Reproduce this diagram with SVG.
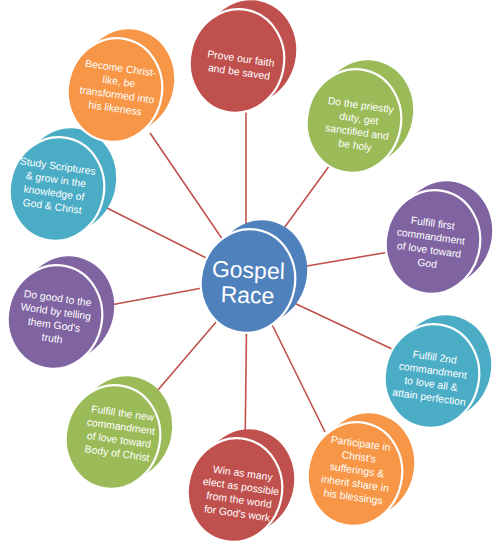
<svg xmlns="http://www.w3.org/2000/svg" width="500" height="553" viewBox="0 0 500 553">
<style>
.conn line{stroke:#c0504d;stroke-width:1.6}
.back{stroke:none}
.front{stroke:#fff;stroke-width:2.2}
.t{font-family:"Liberation Sans",Arial,sans-serif;font-size:10.4px;fill:#fff;text-anchor:middle}
.big{font-family:"Liberation Sans",Arial,sans-serif;font-size:23px;fill:#fff;text-anchor:middle}
.red{fill:#c0504d}.green{fill:#9bbb59}.purple{fill:#8064a2}.teal{fill:#4bacc6}.orange{fill:#f79646}.blue{fill:#4f81bd}
</style>
<defs>
<g id="disc">
<ellipse class="back" cx="12" cy="-9" rx="47" ry="52" transform="rotate(12 12 -9)"/>
<ellipse class="front" cx="0" cy="0" rx="47" ry="52" transform="rotate(12)"/>
</g>
</defs>
<g class="conn">
<line x1="246" y1="281" x2="246" y2="95"/>
<line x1="255" y1="268" x2="335" y2="158"/>
<line x1="260" y1="274" x2="395" y2="251"/>
<line x1="260" y1="287" x2="392" y2="349"/>
<line x1="255" y1="290" x2="325" y2="432"/>
<line x1="247" y1="290" x2="245" y2="450"/>
<line x1="240" y1="294" x2="152" y2="397"/>
<line x1="240" y1="281" x2="105" y2="306"/>
<line x1="240" y1="275" x2="105" y2="207"/>
<line x1="240" y1="265" x2="150" y2="133"/>
</g>
<g id="n1" class="red"><use href="#disc" x="237" y="61"/><text class="t" transform="translate(240 65) rotate(8)"><tspan x="0" y="-3">Prove  our faith</tspan><tspan x="0" y="10.5">and be saved</tspan></text></g>
<g id="n2" class="green"><use href="#disc" x="354" y="121"/><text class="t" transform="translate(358 125) rotate(8)"><tspan x="0" y="-16.5">Do the priestly</tspan><tspan x="0" y="-3">duty, get</tspan><tspan x="0" y="10.5">sanctified and</tspan><tspan x="0" y="24">be holy</tspan></text></g>
<g id="n3" class="purple"><use href="#disc" x="433" y="242"/><text class="t" transform="translate(430 243) rotate(8)"><tspan x="0" y="-16.5">Fulfill first</tspan><tspan x="0" y="-3">commandment</tspan><tspan x="0" y="10.5">of love toward</tspan><tspan x="0" y="24">God</tspan></text></g>
<g id="n4" class="teal"><use href="#disc" x="432" y="376"/><text class="t" transform="translate(432 377) rotate(8)"><tspan x="0" y="-16.5">Fulfill 2nd</tspan><tspan x="0" y="-3">commandment</tspan><tspan x="0" y="10.5">to love all &amp;</tspan><tspan x="0" y="24">attain perfection</tspan></text></g>
<g id="n5" class="orange"><use href="#disc" x="355" y="474"/><text class="t" transform="translate(357 470) rotate(8)"><tspan x="0" y="-23.3">Participate in</tspan><tspan x="0" y="-9.8">Christ's</tspan><tspan x="0" y="3.7">sufferings &amp;</tspan><tspan x="0" y="17.2">inherit share in</tspan><tspan x="0" y="30.7">his blessings</tspan></text></g>
<g id="n6" class="red"><use href="#disc" x="235" y="490"/><text class="t" transform="translate(240 493) rotate(8)"><tspan x="0" y="-16.5">Win as many</tspan><tspan x="0" y="-3">elect as possible</tspan><tspan x="0" y="10.5">from the world</tspan><tspan x="0" y="24">for God's work</tspan></text></g>
<g id="n7" class="green"><use href="#disc" x="113" y="437"/><text class="t" transform="translate(120 433) rotate(8)"><tspan x="0" y="-16.5">Fulfill the new</tspan><tspan x="0" y="-3">commandment</tspan><tspan x="0" y="10.5">of love toward</tspan><tspan x="0" y="24">Body of Christ</tspan></text></g>
<g id="n8" class="purple"><use href="#disc" x="55" y="317"/><text class="t" transform="translate(55 318) rotate(8)"><tspan x="0" y="-16.5">Do good to the</tspan><tspan x="0" y="-3">World by telling</tspan><tspan x="0" y="10.5">them God's</tspan><tspan x="0" y="24">truth</tspan></text></g>
<g id="n9" class="teal"><use href="#disc" x="57" y="189"/><text class="t" transform="translate(55 186) rotate(8)"><tspan x="0" y="-16.5">Study Scriptures</tspan><tspan x="0" y="-3">&amp; grow in the</tspan><tspan x="0" y="10.5">knowledge of</tspan><tspan x="0" y="24">God &amp; Christ</tspan></text></g>
<g id="n10" class="orange"><use href="#disc" x="115" y="90"/><text class="t" transform="translate(118 88) rotate(8)"><tspan x="0" y="-16.5">Become Christ-</tspan><tspan x="0" y="-3">like, be</tspan><tspan x="0" y="10.5">transformed into</tspan><tspan x="0" y="24">his likeness</tspan></text></g>
<g id="center" class="blue"><use href="#disc" x="248" y="281"/><text class="big" transform="translate(248 281) rotate(2)"><tspan x="0" y="-3">Gospel</tspan><tspan x="0" y="22">Race</tspan></text></g>
</svg>
